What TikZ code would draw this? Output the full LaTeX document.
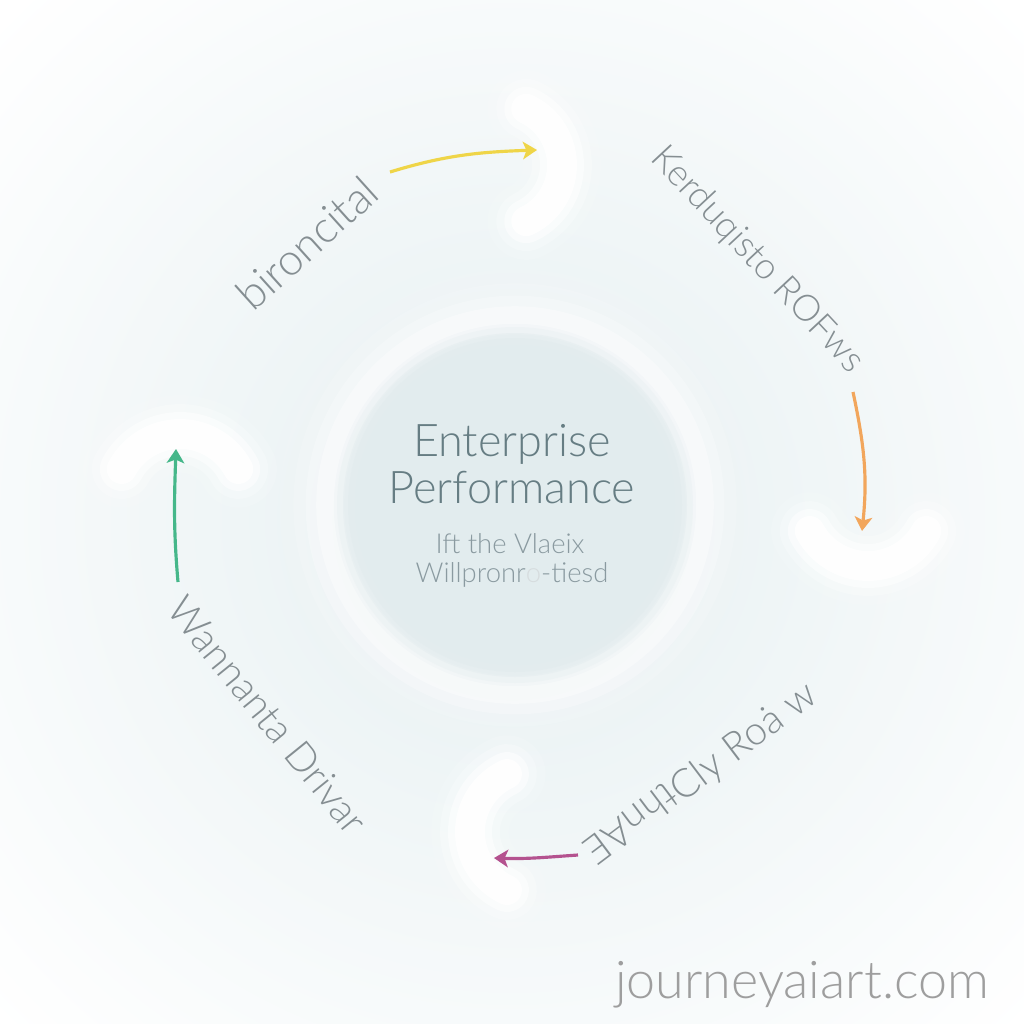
\documentclass[tikz,border=0pt]{standalone}
\usepackage{fontspec}
\setmainfont{Lato}[UprightFont={* Light}]
\usepackage{tikz}
\usetikzlibrary{arrows.meta}

\definecolor{bgblue}{HTML}{E5EFF1}
\definecolor{discblue}{HTML}{E2ECEE}
\definecolor{titlegrey}{HTML}{667D83}
\definecolor{subgrey}{HTML}{8A9AA0}
\definecolor{lblgrey}{HTML}{858E92}
\definecolor{flowyellow}{HTML}{EFD548}
\definecolor{floworange}{HTML}{F2A65C}
\definecolor{flowgreen}{HTML}{45B78A}
\definecolor{flowpink}{HTML}{B4528F}
\definecolor{markgrey}{HTML}{9E9E9E}

\begin{document}
\begin{tikzpicture}[x=0.01cm,y=-0.01cm,
	lbl/.style={text=lblgrey, font=\fontsize{#1}{15}\selectfont, inner sep=0pt},
	lbl/.default=12,
	title/.style={text=titlegrey, font=\fontsize{12.8}{15}\selectfont, anchor=base, inner sep=0pt},
	subtitle/.style={text=subgrey, font=\fontsize{7.8}{10}\selectfont, anchor=base, inner sep=0pt},
	flow/.style={line width=0.9pt, -{Stealth[length=4pt,width=5pt,inset=1pt]}},
	glowarc/.style={white, line cap=round}]
			%%Canvas
			\useasboundingbox (0,0) rectangle (1024,1024);
			\clip (0,0) rectangle (1024,1024);
			\fill[white] (0,0) rectangle (1024,1024);
			\shade[inner color=bgblue, outer color=white] (512,520) circle [radius=720];
			
			%%Centre disc
			\coordinate (cen) at (515,505);
			\foreach \w/\o in {26/0.08,18/0.15,11/0.25,5/0.35}{
				\draw[white, line width=\w pt, opacity=\o] (cen) circle [radius=190];
			}
			\foreach \r/\o in {178/0.25,172/0.45,167/0.7,160/1}{
				\fill[discblue, opacity=\o] (cen) circle [radius=\r];
			}
			
			%%Glow crescents
			\coordinate (topc) at (500,165);
			\coordinate (rightc) at (868,500);
			\coordinate (leftc) at (180,500);
			\coordinate (botc) at (534,832);
			\foreach \w/\o in {22/0.12,17/0.25,12.5/0.5,8.5/0.85}{
				\draw[glowarc, line width=\w pt, opacity=\o] (topc) ++(-65:62) arc[start angle=-65, end angle=65, radius=62];
				\draw[glowarc, line width=\w pt, opacity=\o] (rightc) ++(28:66) arc[start angle=28, end angle=152, radius=66];
				\draw[glowarc, line width=\w pt, opacity=\o] (leftc) ++(-152:66) arc[start angle=-152, end angle=-28, radius=66];
				\draw[glowarc, line width=\w pt, opacity=\o] (botc) ++(115:64) arc[start angle=115, end angle=245, radius=64];
			}
			
			%%Centre text
			\node[title] (ent) at (512,456) {Enterprise};
			\node[title] (perf) at (512,503) {Performance};
			\node[subtitle] (sub1) at (510,553) {Ift the Vlaeix};
			\node[subtitle] (sub2) at (512,582) {Willpronr{\color{subgrey!35}o}-tiesd};
			
			%%Stage labels
			\node[lbl=12.5, rotate=42] (bir) at (307,243) {bironcital};
			\node[lbl=10.4, rotate=-47] (ker) at (757,260) {Kerduqisto ROFws};
			\node[lbl=11.3, rotate=-51] (wan) at (268,715) {Wannanta Drivar};
			\node[lbl=11.3, rotate=37] (evu) at (702,775) {\rotatebox[origin=c]{180}{thnAE}Cly Ro\.{a} w};
			
			%%Arrows
			\coordinate (ystart) at (390,172);
			\coordinate (yend) at (537,150);
			\coordinate (ostart) at (853,392);
			\coordinate (oend) at (862,531);
			\coordinate (pstart) at (578,855);
			\coordinate (pend) at (494,858);
			\coordinate (gstart) at (178,582);
			\coordinate (gend) at (176,449);
			\draw[flow, flowyellow] (ystart) to[out=17, in=182] (yend);
			\draw[flow, floworange] (ostart) to[out=-78, in=84] (oend);
			\draw[flow, flowpink] (pstart) to[out=184, in=-2] (pend);
			\draw[flow, flowgreen] (gstart) to[out=95, in=-92] (gend);
			
			%%Watermark
			\node[text=markgrey, font=\fontsize{14.8}{18}\selectfont, anchor=base, inner sep=0pt] (mark) at (802,998) {journeyaiart.com};
\end{tikzpicture}
\end{document}
